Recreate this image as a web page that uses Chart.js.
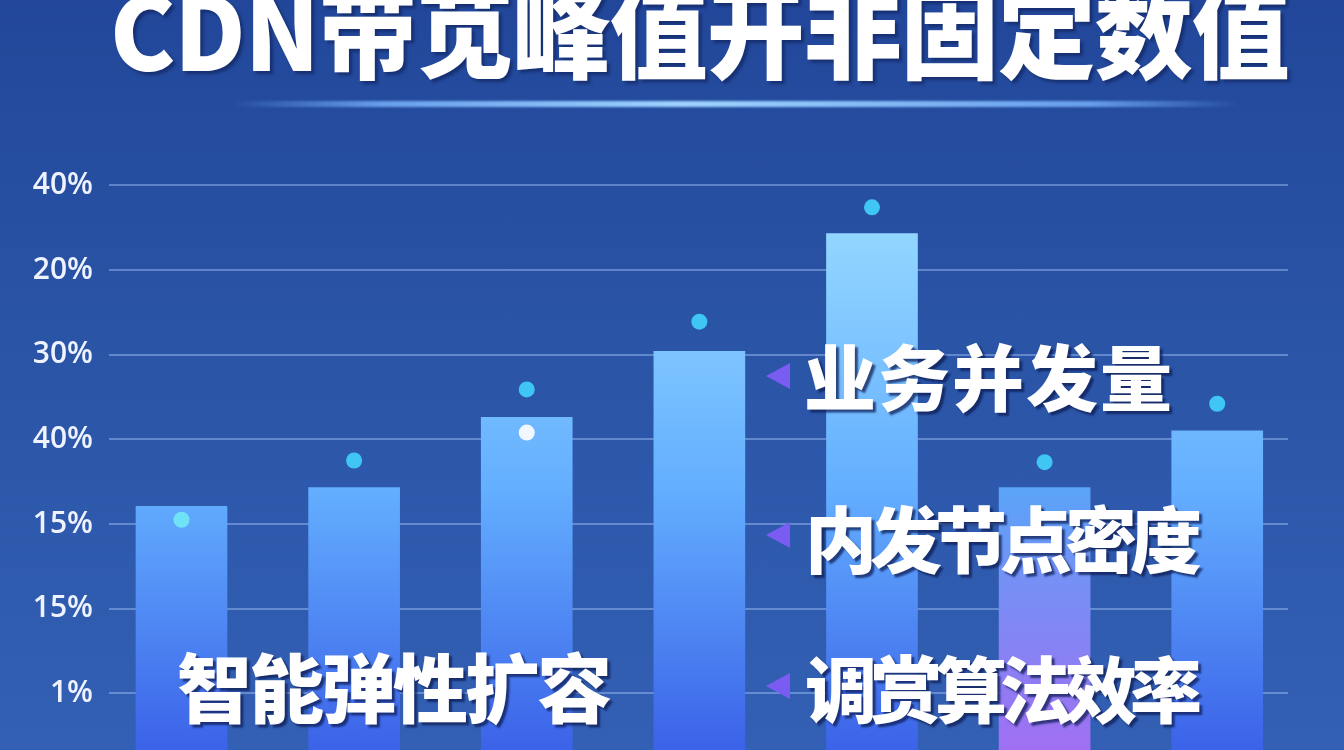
<!DOCTYPE html>
<html lang="zh-CN">
<head>
    <meta charset="UTF-8">
    <title>CDN带宽峰值</title>
    <script src="https://cdn.jsdelivr.net/npm/chart.js"></script>
    <style>
        html, body { margin: 0; padding: 0; }
        body {
            width: 1344px; height: 750px; overflow: hidden; position: relative;
            background: linear-gradient(180deg, #22479a 0%, #2a54a6 45%, #3360b4 100%);
            font-family: "Noto Sans CJK SC", sans-serif;
        }
        #wrap { position: absolute; left: 0; top: 0; width: 1344px; height: 786px; }
        .title {
            position: absolute; left: 110px; top: -21px; white-space: nowrap;
            font-size: 98px; line-height: 1; font-weight: 900; color: #fff;
            letter-spacing: -1px;
            transform: scaleY(1.04); transform-origin: 0 100%;
            text-shadow: 3px 3px 3px rgba(12, 28, 80, 0.55);
        }
        .glow {
            position: absolute; left: 230px; top: 101px; width: 1010px; height: 6px;
            background: linear-gradient(90deg, rgba(110,170,255,0) 0%, rgba(120,180,255,0.8) 15%, #9fd4ff 45%, rgba(120,180,255,0.8) 85%, rgba(110,170,255,0) 100%);
            filter: blur(1px);
        }
        .tag {
            position: absolute; white-space: nowrap; line-height: 1;
            font-weight: 900; color: #fff;
            text-shadow: 3px 3px 2px rgba(15, 30, 85, 0.75);
        }
        .tri {
            position: absolute; width: 0; height: 0;
            border-top: 13px solid transparent; border-bottom: 13px solid transparent;
            border-right: 24px solid #7a5cf2;
        }
    </style>
</head>
<body>
    <div id="wrap"><canvas id="myChart" width="1344" height="786"></canvas></div>

    <div class="title">CDN带苋峰值开非固定数值</div>
    <div class="glow"></div>

    <div class="tri" style="left:766px; top:363px;"></div>
    <div class="tri" style="left:766px; top:522px;"></div>
    <div class="tri" style="left:766px; top:673px;"></div>

    <div class="tag" style="left:804px; top:338px; font-size:72px; letter-spacing:2px;">业务并发量</div>
    <div class="tag" style="left:805px; top:500px; font-size:72px; letter-spacing:-7px;">内发节点密度</div>
    <div class="tag" style="left:805px; top:650px; font-size:72px; letter-spacing:-7px;">调赏算法效率</div>
    <div class="tag" style="left:177px; top:647px; font-size:75px; letter-spacing:-3px;">智能弹性扩容</div>

    <script>
        // 数值按网格线序号计（1 = 最底下那条线）
        const categories = ['1', '2', '3', '4', '5', '6', '7'];
        const barValues = [3.21, 3.43, 4.26, 5.04, 6.43, 3.43, 4.10];
        const cyanDots = [3.05, 3.75, 4.59, 5.39, 6.74, 3.73, 4.42];
        const whiteDots = [null, null, 4.08, null, null, null, null];
        const yTickLabels = ['1%', '15%', '15%', '40%', '30%', '20%', '40%'];

        const toXY = arr => arr.map((v, i) => ({ x: i, y: v })).filter(p => p.y !== null);

        // 柱子的纵向渐变（第6根偏紫）
        function barColor(ctx) {
            const chart = ctx.chart;
            if (!chart.chartArea) return '#5ea8ff';
            const c = chart.ctx;
            const yTop = chart.scales.y.getPixelForValue(Math.max(...barValues));
            const yBot = 750;
            if (ctx.dataIndex === 5) {
                const g = c.createLinearGradient(0, chart.scales.y.getPixelForValue(barValues[5]), 0, yBot);
                g.addColorStop(0, '#5aa4f8');
                g.addColorStop(0.45, '#7c8bf5');
                g.addColorStop(1, '#a06ff2');
                return g;
            }
            const g = c.createLinearGradient(0, yTop, 0, yBot);
            g.addColorStop(0, '#92d6ff');
            g.addColorStop(0.5, '#63aeff');
            g.addColorStop(1, '#3b62e8');
            return g;
        }

        const ctx = document.getElementById('myChart').getContext('2d');
        new Chart(ctx, {
            type: 'bar',
            data: {
                labels: categories,
                datasets: [
                    {
                        type: 'scatter',
                        data: toXY(whiteDots),
                        pointRadius: 8,
                        pointBackgroundColor: '#f2f7ff',
                        pointBorderWidth: 0
                    },
                    {
                        type: 'scatter',
                        data: toXY(cyanDots),
                        pointRadius: 8,
                        pointBackgroundColor: cyanDots.map((v, i) => i === 0 ? '#6fe2f7' : '#3fc6f4'),
                        pointBorderWidth: 0
                    },
                    {
                        data: toXY(barValues),
                        backgroundColor: barColor,
                        borderWidth: 0,
                        barThickness: 91
                    }
                ]
            },
            options: {
                responsive: false,
                animation: false,
                layout: { padding: { top: 143, right: 56, bottom: 0, left: 0 } },
                plugins: { legend: { display: false }, tooltip: { enabled: false } },
                scales: {
                    x: {
                        type: 'linear',
                        display: false,
                        offset: false,
                        min: -0.42,
                        max: 6.41
                    },
                    y: {
                        min: 0,
                        max: 7.5,
                        ticks: {
                            stepSize: 1,
                            padding: 16,
                            color: '#eef3ff',
                            font: { family: 'Open Sans', size: 30, weight: '600' },
                            callback: v => yTickLabels[v - 1]
                        },
                        grid: { color: 'rgba(175, 205, 255, 0.42)', lineWidth: 2, drawTicks: false },
                        border: { display: false },
                        afterBuildTicks: s => { s.ticks = s.ticks.filter(t => Number.isInteger(t.value) && t.value >= 1); },
                        afterFit: s => { s.width = 109; s.paddingTop = 0; s.paddingBottom = 0; }
                    }
                }
            }
        });
    </script>
</body>
</html>
